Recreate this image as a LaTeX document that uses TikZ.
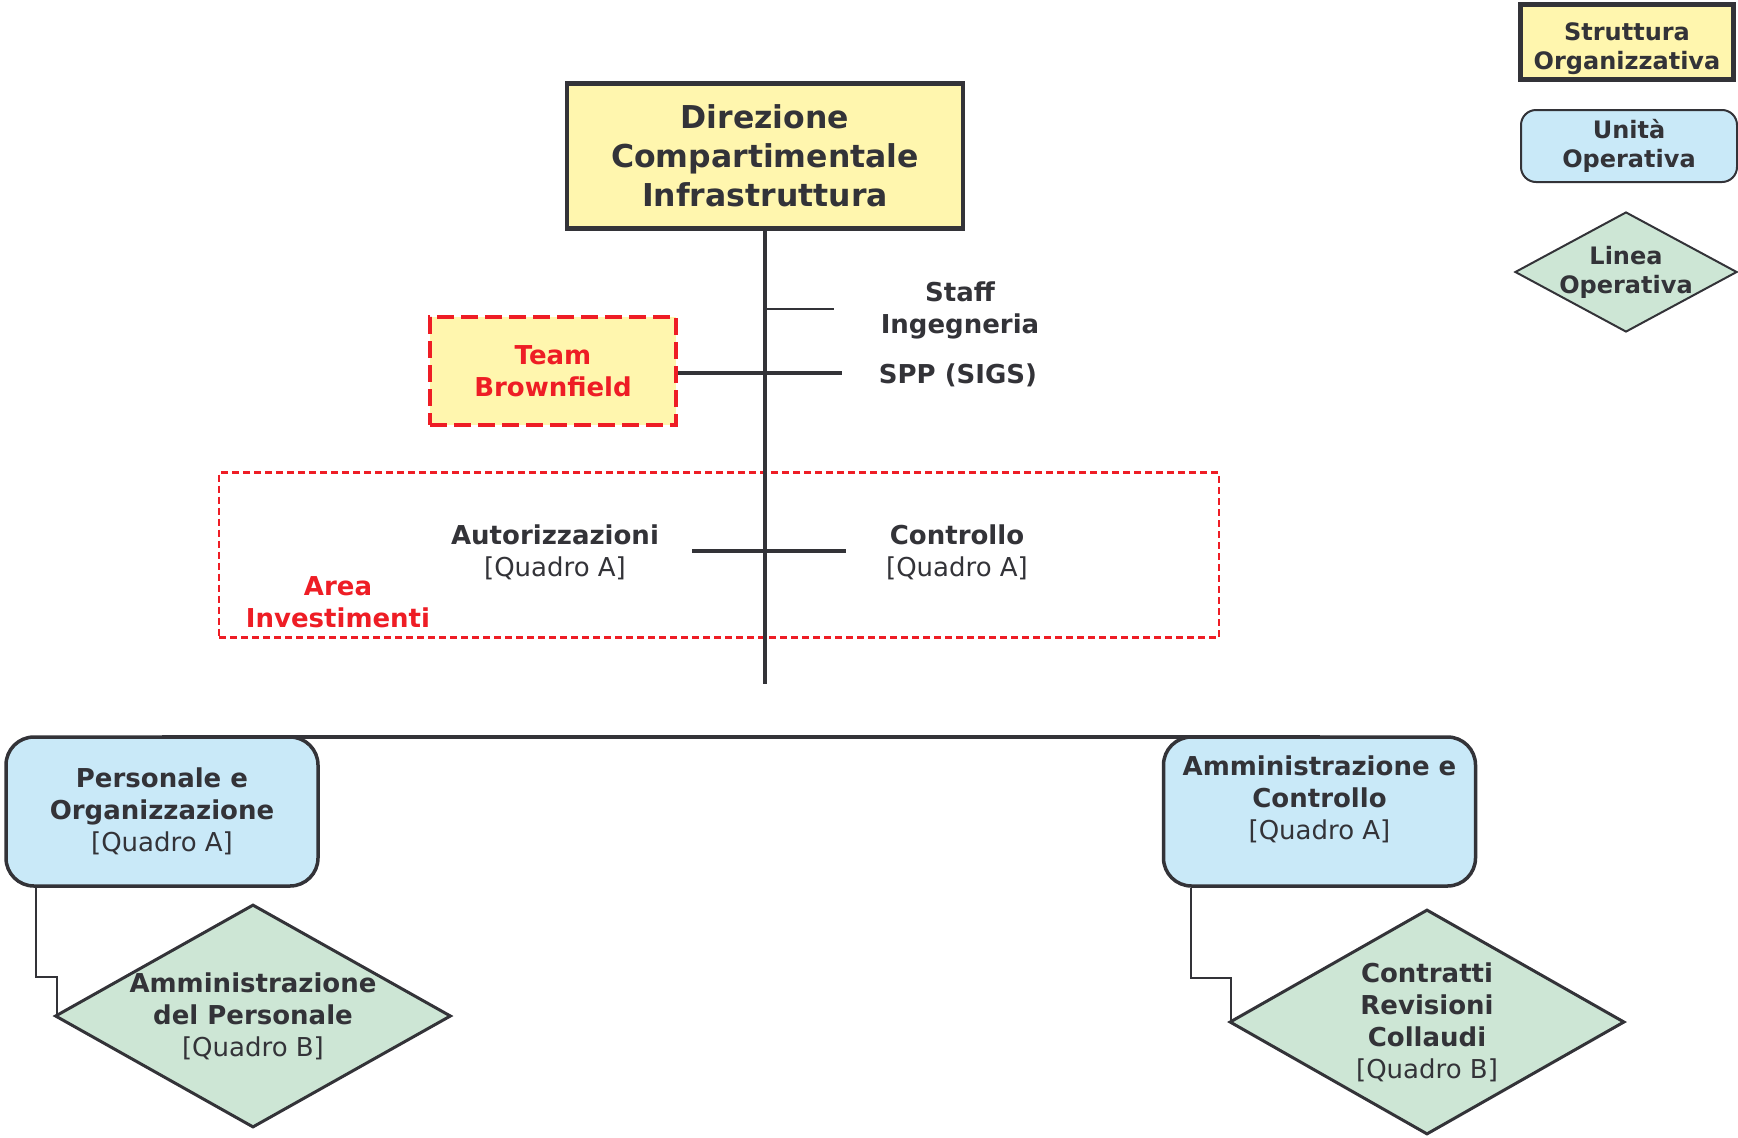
\documentclass[tikz,border=0pt]{standalone}
\usepackage{fontspec}
\setmainfont{DejaVu Sans}
\usepackage{tikz}
\usetikzlibrary{shapes.geometric}
\definecolor{textgray}{HTML}{333338}
\definecolor{linegray}{HTML}{333338}
\definecolor{strutyellow}{HTML}{FFF6AE}
\definecolor{unitblue}{HTML}{C9E9F8}
\definecolor{lineagreen}{HTML}{CDE6D5}
\definecolor{teamred}{HTML}{EE1D25}
\tikzset{
    box/.style={
        draw=linegray, text=textgray, align=center, inner sep=0pt,
        font=\bfseries\fontsize{26}{32}\selectfont
    },
    struttura/.style={box, fill=strutyellow, line width=4.5pt},
    unita/.style={box, fill=unitblue, line width=3.5pt, rounded corners=28pt},
    linea/.style={draw=linegray, fill=lineagreen, diamond, line width=3pt, inner sep=0pt},
    team/.style={box, fill=strutyellow, draw=teamred, text=teamred, line width=4.5pt,
        dash pattern=on 17pt off 7pt},
    area/.style={draw=teamred, line width=2.2pt, dash pattern=on 7pt off 4pt},
    lbl/.style={text=textgray, align=center, inner sep=0pt,
        font=\bfseries\fontsize{26}{32}\selectfont},
    legend/.style={font=\bfseries\fontsize{24}{29}\selectfont},
    trunk/.style={draw=linegray, line width=4pt},
    twig/.style={draw=linegray, line width=2pt}
}
\newcommand{\quadro}[1]{{\mdseries[Quadro #1]}}

\begin{document}
\begin{tikzpicture}[x=1pt, y=-1pt]
		\useasboundingbox (0,0) rectangle (1738,1138);

		% Area Investimenti
		\node[area, minimum width=1000pt, minimum height=165pt] (invest) at (719,555) {};
		\node[lbl, text=teamred] (investlbl) at (338,602) {Area\\Investimenti};

		% Direzione
		\node[struttura, minimum width=396pt, minimum height=145pt,
			font=\bfseries\fontsize{31.5}{39}\selectfont] (dir) at (765,156)
			{Direzione\\Compartimentale\\Infrastruttura};
		\coordinate (trunkend) at (765,684);
		\draw[trunk] (dir.south) -- (trunkend);

		% staff
		\node[lbl] (staff) at (960,310) {Staff\\Ingegneria};
		\coordinate (staffend) at (834,309);
		\draw[twig] (dir.south |- staffend) -- (staffend);

		\node[team, minimum width=246pt, minimum height=108pt] (team) at (553,371) {Team\\Brownfield};
		\node[lbl] (spp) at (958,375) {SPP (SIGS)};
		\coordinate (sppend) at (842,373);
		\draw[trunk] (team.east |- sppend) -- (sppend);

		\node[lbl] (aut) at (555,552) {Autorizzazioni\\\quadro{A}};
		\node[lbl] (ctrl) at (957,552) {Controllo\\\quadro{A}};
		\coordinate (autend) at (692,551);
		\coordinate (ctrlend) at (846,551);
		\draw[trunk] (autend) -- (ctrlend);

		% unita operative
		\node[unita, minimum width=312pt, minimum height=149pt] (pers) at (162,811.5)
			{Personale e\\Organizzazione\\\quadro{A}};
		\node[unita, minimum width=312pt, minimum height=149pt] (amm) at (1319.5,811.5)
			{Amministrazione e\\Controllo\\\quadro{A}\\[-14pt]\strut};
		\draw[trunk] ([yshift=-2pt]pers.north) -- ([yshift=-2pt]amm.north);

		% linee operative
		\node[linea, minimum width=396pt, minimum height=223pt] (persdia) at (253,1016) {};
		\node[lbl] (persdiatxt) at (persdia.center) {Amministrazione\\del Personale\\\quadro{B}};
		\draw[twig] ([xshift=32pt]pers.south west) -- ++(0,89) -| ([xshift=3pt]persdia.west);

		\node[linea, minimum width=395pt, minimum height=225pt] (ammdia) at (1427,1022) {};
		\node[lbl] (ammdiatxt) at (ammdia.center) {Contratti\\Revisioni\\Collaudi\\\quadro{B}};
		\draw[twig] ([xshift=29pt]amm.south west) -- ++(0,90) -| ([xshift=3pt]ammdia.west);

		% legenda
		\node[struttura, legend, minimum width=213pt, minimum height=75pt] (legstrut) at (1627,42)
			{\strut\\[-18pt]Struttura\\Organizzativa};
		\node[unita, legend, line width=2pt, rounded corners=15pt, minimum width=216pt,
			minimum height=72pt] (legunit) at (1629,146) {Unità\\Operativa};
		\node[linea, line width=2pt, minimum width=222pt, minimum height=120pt] (leglinea) at (1626,272) {};
		\node[lbl, legend] (leglineatxt) at (leglinea.center) {Linea\\Operativa};

	\end{tikzpicture}
\end{document}
